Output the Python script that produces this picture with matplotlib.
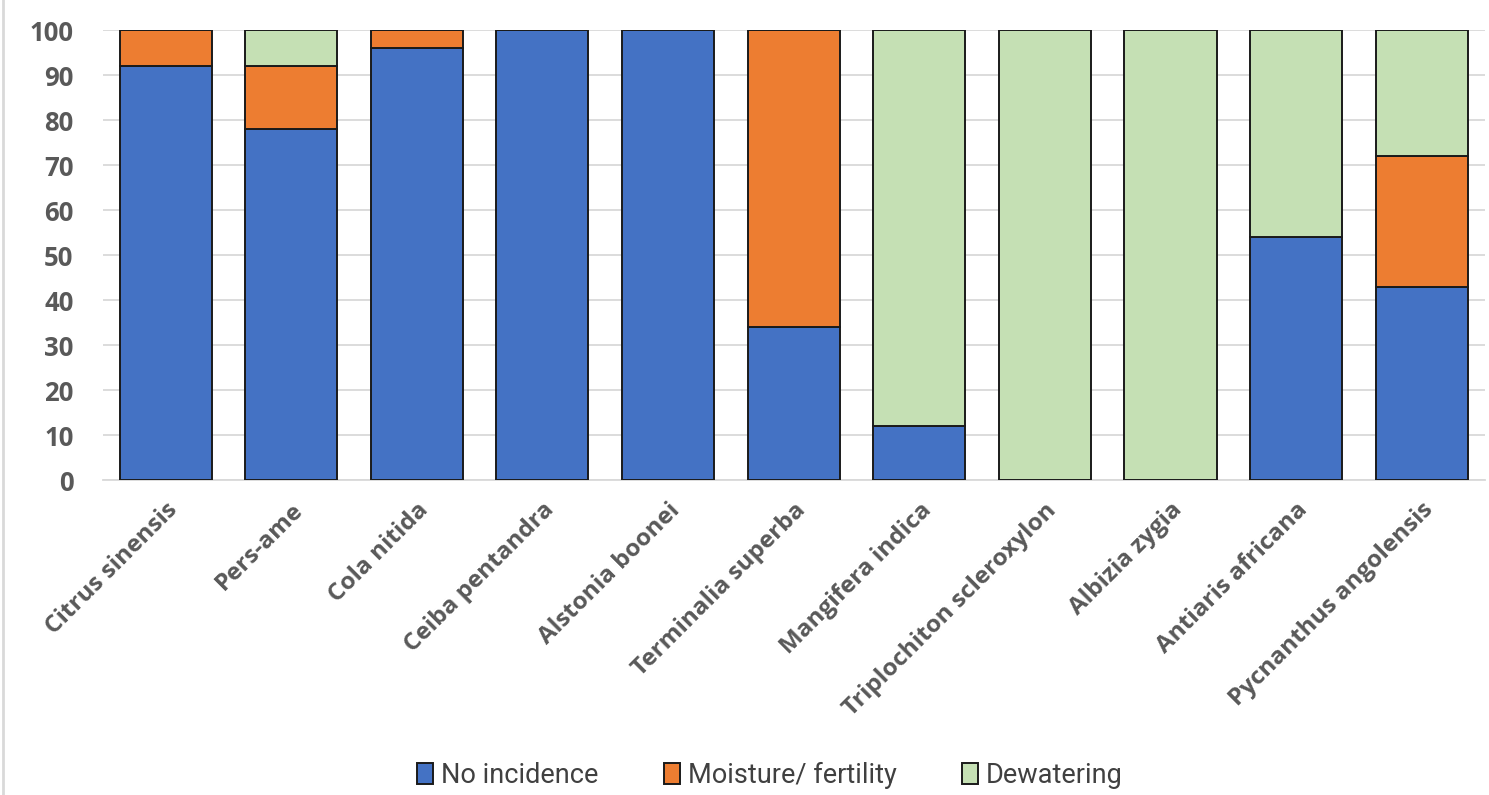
import numpy as np
import matplotlib.pyplot as plt
from matplotlib.lines import Line2D

species = ["Citrus sinensis", "Pers-ame", "Cola nitida", "Ceiba pentandra",
           "Alstonia boonei", "Terminalia superba", "Mangifera indica",
           "Triplochiton scleroxylon", "Albizia zygia", "Antiaris africana",
           "Pycnanthus angolensis"]
no_incidence = [92, 78, 96, 100, 100, 34, 12, 0, 0, 54, 43]
moisture_fertility = [8, 14, 4, 0, 0, 66, 0, 0, 0, 0, 29]
dewatering = [0, 8, 0, 0, 0, 0, 88, 100, 100, 46, 28]

series = [("No incidence", no_incidence, "#4472c4"),
          ("Moisture/ fertility", moisture_fertility, "#ed7d31"),
          ("Dewatering", dewatering, "#c5e0b4")]

fig = plt.figure(figsize=(14.89, 7.95), dpi=100)
ax = fig.add_axes([0.069, 0.396, 0.928, 0.566])

x = np.arange(len(species))
bottom = np.zeros(len(species))
for name, vals, color in series:
    vals = np.array(vals, dtype=float)
    ax.bar(x, vals, width=0.733, bottom=bottom, color=color, edgecolor="#1a1a1a",
           linewidth=1.4, label=name, zorder=3)
    bottom += vals

ax.set_xlim(-0.5, len(species) - 0.5)
ax.set_ylim(0, 100)
ax.set_yticks(np.arange(0, 101, 10))
ax.yaxis.grid(True, color="#d9d9d9", linewidth=1.3, zorder=0)
ax.set_axisbelow(True)
for s in ["top", "right", "left"]:
    ax.spines[s].set_visible(False)
ax.spines["bottom"].set_color("#d9d9d9")
ax.spines["bottom"].set_linewidth(1.3)
ax.tick_params(axis="both", length=0, colors="#595959")
ax.tick_params(axis="y", pad=21)
ax.tick_params(axis="x", pad=13)

ax.set_xticks(x)
ax.set_xticklabels(species, rotation=45, ha="right", rotation_mode="anchor",
                   fontsize=17.5, fontweight="bold", family="Open Sans", color="#595959")
for lbl in ax.get_yticklabels():
    lbl.set_fontsize(18.5)
    lbl.set_fontweight("bold")
    lbl.set_family("Open Sans")

leg = fig.legend(loc="center", bbox_to_anchor=(0.517, 0.025), ncol=3, frameon=False,
                 prop={"family": "Roboto", "size": 19.5}, handlelength=0.6,
                 handleheight=0.8, columnspacing=2.4, handletextpad=0.3)
for t in leg.get_texts():
    t.set_color("#404040")

# thin frame line on the left edge
fig.add_artist(Line2D([0.002, 0.002], [0, 1], color="#d9d9d9", linewidth=2,
                      transform=fig.transFigure))

fig.savefig("out.png", dpi=100)
